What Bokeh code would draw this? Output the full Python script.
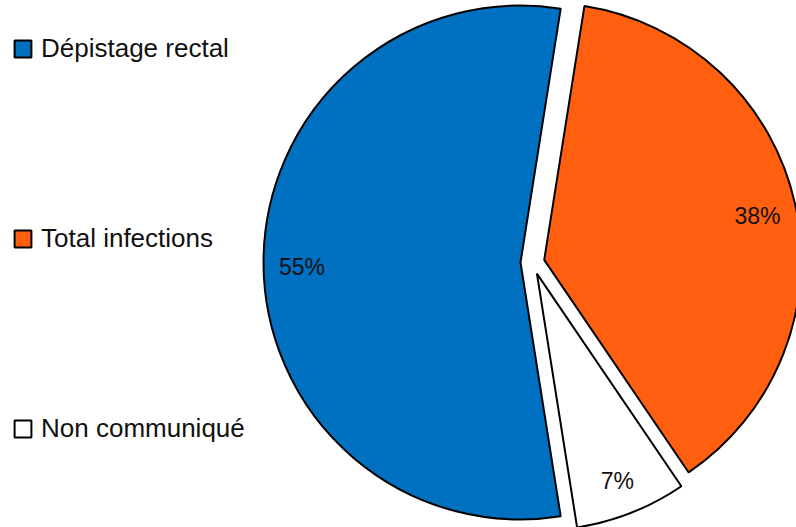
import math
from bokeh.plotting import figure
from bokeh.models import ColumnDataSource, Range1d, Legend, LegendItem
from bokeh.core.properties import value
from bokeh.embed import file_html
from bokeh.resources import INLINE

# ---- data ----
categories = ["Dépistage rectal", "Total infections", "Non communiqué"]
percent = [55, 38, 7]
pct_labels = ["55%", "38%", "7%"]
colors = ["#0070c0", "#ff5f0f", "#ffffff"]

# ---- layout ----
W, H = 796, 527
cx, cy = 532, H - 262
R = 257
explode = 12
start_deg = 279.0  # slices go clockwise from here
label_frac = 0.85
FONT = "Liberation Sans"

total = float(sum(percent))
starts, ends, xs, ys, lxs, lys = [], [], [], [], [], []
a = start_deg
for v in percent:
    span = 360.0 * v / total
    hi, lo = a, a - span
    mid = math.radians((hi + lo) / 2.0)
    ox = cx + explode * math.cos(mid)
    oy = cy + explode * math.sin(mid)
    xs.append(ox)
    ys.append(oy)
    starts.append(math.radians(lo))
    ends.append(math.radians(hi))
    lxs.append(ox + label_frac * R * math.cos(mid))
    lys.append(oy + label_frac * R * math.sin(mid))
    a = lo

src = ColumnDataSource(dict(x=xs, y=ys, start=starts, end=ends, color=colors,
                            cat=categories, lx=lxs, ly=lys, label=pct_labels))

p = figure(width=W, height=H, x_range=Range1d(0, W), y_range=Range1d(0, H),
           output_backend="svg", toolbar_location=None, min_border=0,
           x_axis_type=None, y_axis_type=None)
p.grid.visible = False
p.outline_line_color = None
p.background_fill_color = "white"
p.border_fill_color = "white"

r = p.wedge(x="x", y="y", radius=R, start_angle="start", end_angle="end",
            fill_color="color", line_color="black", line_width=2, source=src)

p.text(x="lx", y="ly", text="label", source=src, text_align="center",
       text_baseline="middle", text_font=value(FONT), text_font_size="23px",
       text_color="#111111", y_offset=4)

items = [LegendItem(label=c, renderers=[r], index=i) for i, c in enumerate(categories)]
legend = Legend(items=items, location=(12, 83), glyph_width=21, glyph_height=21,
                spacing=159, label_text_font=FONT, label_text_font_size="26px",
                label_text_color="#111111", padding=0, margin=0,
                border_line_color=None, background_fill_alpha=0, label_standoff=8)
p.add_layout(legend)

open("out.html", "w").write(file_html(p, INLINE))
